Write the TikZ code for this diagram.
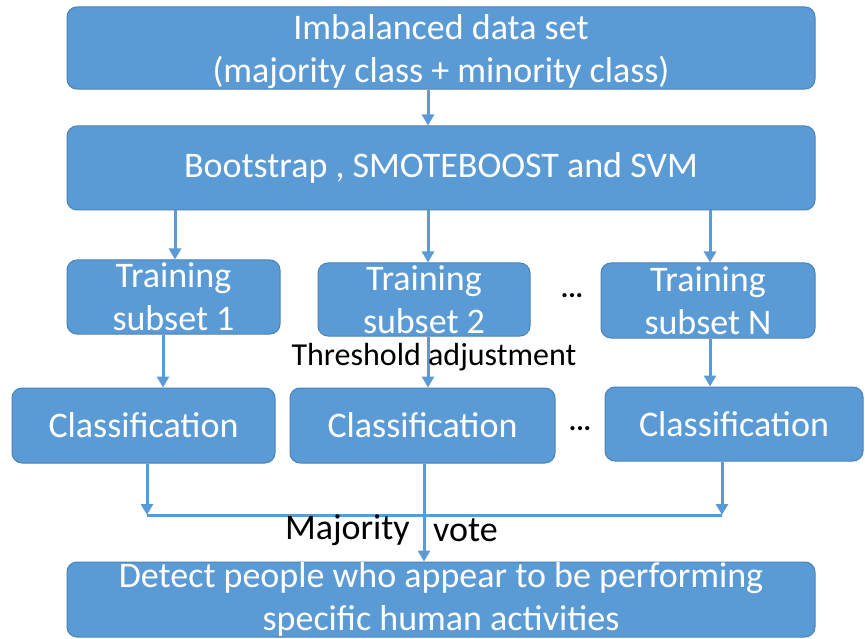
\documentclass[tikz,border=0pt]{standalone}
\usepackage{fontspec}
\setmainfont{Carlito}
\usetikzlibrary{arrows.meta}
\definecolor{boxblue}{HTML}{5B9BD5}
\definecolor{boxedge}{HTML}{4A82B8}
\tikzset{
  box/.style={draw=boxedge, line width=1pt, fill=boxblue, rounded corners=10pt,
    text=white, align=center, inner sep=0pt,
    font=\fontsize{36}{43}\selectfont},
  arr/.style={draw=boxblue, line width=3pt, -{Triangle[width=12pt,length=11pt]}},
  ln/.style={draw=boxblue, line width=3pt},
  note/.style={text=black, inner sep=0pt}
}
\begin{document}
\begin{tikzpicture}[x=1pt, y=-1pt]
  \useasboundingbox (0,0) rectangle (865,639);
  % process boxes
  \node[box, minimum width=748pt, minimum height=82pt] (top) at (441,48)
    {\rule{0pt}{33pt}Imbalanced data set\\(majority class + minority class)};
  \node[box, minimum width=748pt, minimum height=84pt] (boot) at (441,168)
    {Bootstrap , SMOTEBOOST and SVM};
  \node[box, minimum width=213pt, minimum height=74pt] (t1) at (173.5,297)
    {Training\\subset 1};
  \node[box, minimum width=212pt, minimum height=73pt] (t2) at (424,299.5)
    {Training\\subset 2};
  \node[box, minimum width=214pt, minimum height=75pt] (tN) at (708,300.5)
    {Training\\subset N};
  \node[box, minimum width=263pt, minimum height=75pt] (c1) at (143.5,425.5)
    {Classification};
  \node[box, minimum width=265pt, minimum height=75pt] (c2) at (422.5,425.5)
    {Classification};
  \node[box, minimum width=258pt, minimum height=74pt] (cN) at (734,424)
    {Classification};
  \node[box, minimum width=748pt, minimum height=75pt] (det) at (441,599.5)
    {Detect people who appear to be performing\\specific human activities};
  % ellipses between columns
  \node[note, font=\fontsize{28}{28}\selectfont\bfseries] (dots1) at (572,296) {...};
  \node[note, font=\fontsize{28}{28}\selectfont\bfseries] (dots2) at (580,429) {...};
  % connectors
  \draw[arr] (428,0 |- top.south) -- (428,0 |- boot.north);
  \draw[arr] (175,0 |- boot.south) -- (175,0 |- t1.north);
  \draw[arr] (428,0 |- boot.south) -- (428,0 |- t2.north);
  \draw[arr] (710,0 |- boot.south) -- (710,0 |- tN.north);
  \draw[arr] (163,0 |- t1.south) -- (163,0 |- c1.north);
  \draw[arr] (428,0 |- t2.south) -- (428,0 |- c2.north);
  \draw[arr] (710,0 |- tN.south) -- (710,0 |- cN.north);
  \coordinate (jl) at (147,515);
  \coordinate (jr) at (722,515);
  \draw[arr] (147,0 |- c1.south) -- (jl);
  \draw[arr] (722,0 |- cN.south) -- (jr);
  \draw[ln] (jl) -- (jr);
  \draw[arr] (424,0 |- c2.south) -- (424,0 |- det.north);
  % labels
  \node[note, font=\fontsize{32}{32}\selectfont] (thr) at (434,357) {Threshold adjustment};
  \node[note, anchor=east, font=\fontsize{36}{36}\selectfont] (maj) at (410,530) {Majority};
  \node[note, anchor=west, font=\fontsize{36}{36}\selectfont] (vote) at (433,530) {vote};
\end{tikzpicture}
\end{document}
